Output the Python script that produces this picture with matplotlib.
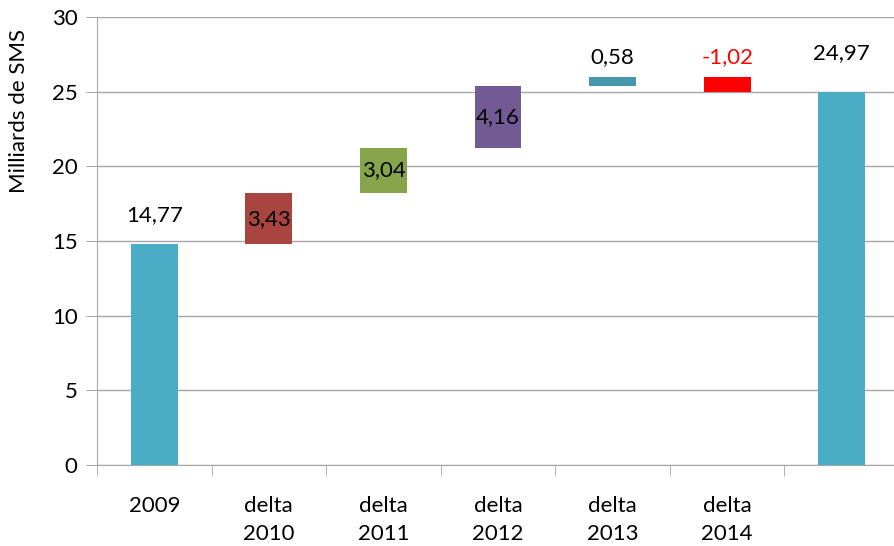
import numpy as np
import matplotlib.pyplot as plt

plt.rcParams['font.family'] = ['Lato', 'DejaVu Sans']

# data
categories = ['2009', 'delta\n2010', 'delta\n2011', 'delta\n2012', 'delta\n2013', 'delta\n2014', '']
values = [14.77, 3.43, 3.04, 4.16, 0.58, -1.02, 24.97]
labels = ['14,77', '3,43', '3,04', '4,16', '0,58', '-1,02', '24,97']
colors = ['#4BACC6', '#A84541', '#86A449', '#725A94', '#4598AE', '#FF0000', '#4BACC6']
label_colors = ['black', 'black', 'black', 'black', 'black', 'red', 'black']
# where the label goes: 'in' = centre of bar, number = points above bar top
label_pos = [21, 'in', 'in', 'in', 14, 14, 28]

# waterfall bottoms: first and last are totals from zero
bottoms = []
heights = []
cum = 0
for i, v in enumerate(values):
    if i == 0 or i == len(values) - 1:
        bottoms.append(0)
        heights.append(v)
        cum = v
    else:
        new = cum + v
        bottoms.append(min(cum, new))
        heights.append(abs(v))
        cum = new

fig = plt.figure(figsize=(8.94, 5.46), dpi=100)
ax = fig.add_axes([97 / 894, 81 / 546, 802 / 894, 448 / 546])

x = np.arange(len(categories))
ax.bar(x, heights, bottom=bottoms, width=0.41, color=colors, zorder=3)

fs = 16
for i in range(len(values)):
    top = bottoms[i] + heights[i]
    if label_pos[i] == 'in':
        ax.text(x[i], bottoms[i] + heights[i] / 2, labels[i], ha='center', va='center',
                fontsize=fs, color=label_colors[i], zorder=4)
    else:
        ax.annotate(labels[i], (x[i], top), xytext=(0, label_pos[i]), textcoords='offset points',
                    ha='center', va='center', fontsize=fs, color=label_colors[i], zorder=4)

ax.set_xlim(-0.5, len(categories) - 0.5)
ax.set_ylim(0, 30)
ax.set_yticks(range(0, 31, 5))
ax.yaxis.grid(True, color='#A6A6A6', linewidth=1)
ax.set_axisbelow(True)

ax.set_xticks(x)
ax.set_xticklabels(categories, linespacing=1.5)
ax.set_xticks(np.arange(-0.5, len(categories)), minor=True)
ax.tick_params(axis='x', which='major', length=0, pad=22, labelsize=fs)
ax.tick_params(axis='x', which='minor', length=8, color='#A6A6A6')
ax.tick_params(axis='y', length=8, color='#A6A6A6', labelsize=fs, pad=6)

for s in ['top', 'right']:
    ax.spines[s].set_visible(False)
ax.spines['left'].set_color('#A6A6A6')
ax.spines['bottom'].set_color('#A6A6A6')

ax.set_ylabel('Milliards de SMS', fontsize=fs)
ax.yaxis.set_label_coords(-0.085, 0.79)

fig.savefig('out.png', dpi=100)
